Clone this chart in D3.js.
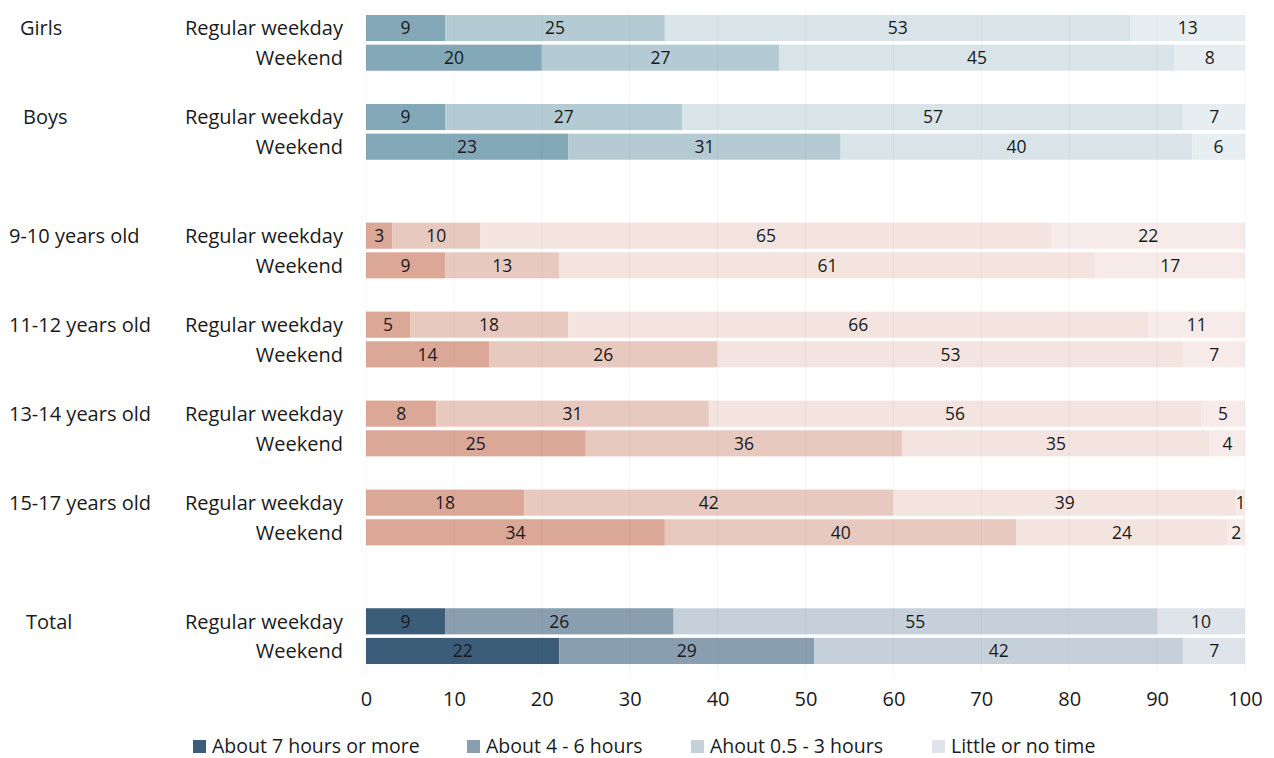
<!DOCTYPE html>
<html>
<head>
<meta charset="utf-8">
<script src="https://cdn.jsdelivr.net/npm/d3@7"></script>
<style>
  html, body { margin: 0; padding: 0; background: #fff; }
  svg { display: block; font-family: "Open Sans", "Noto Sans", sans-serif; }
</style>
</head>
<body>
<svg id="chart" width="1274" height="758"></svg>
<script>
// Groups and the two periods shown for each
const groups = ["Girls", "Boys", "9-10 years old", "11-12 years old", "13-14 years old", "15-17 years old", "Total"];
const periods = ["Regular weekday", "Weekend"];
const seriesNames = ["About 7 hours or more", "About 4 - 6 hours", "Ahout 0.5 - 3 hours", "Little or no time"];
const xTicks = [0, 10, 20, 30, 40, 50, 60, 70, 80, 90, 100];

// Percent of respondents per row (group x period), in group order
const about7h    = [9, 20,  9, 23,  3,  9,  5, 14,  8, 25, 18, 34,  9, 22];
const about4to6  = [25, 27, 27, 31, 10, 13, 18, 26, 31, 36, 42, 40, 26, 29];
const about05to3 = [53, 45, 57, 40, 65, 61, 66, 53, 56, 35, 39, 24, 55, 42];
const littleNone = [13, 8,  7,  6, 22, 17, 11,  7,  5,  4,  1,  2, 10,  7];

const seriesValues = [about7h, about4to6, about05to3, littleNone];

// Palettes: gender rows, age rows, total rows
const palettes = {
  gender: ["#83a8b7", "#b4cbd3", "#d9e4e9", "#e7eef1"],
  age:    ["#dba898", "#e8c9bf", "#f3e4e0", "#f6ebe8"],
  total:  ["#3b5d7a", "#899fb0", "#c5d0da", "#dfe4ea"]
};
const paletteOf = g => g === "Total" ? "total" : (g === "Girls" || g === "Boys") ? "gender" : "age";

// Empty slots inserted before each group to space the sections
const gapBefore = [0, 1, 2, 1, 1, 1, 2];

const rows = [];
const slots = [];
groups.forEach((g, gi) => {
  for (let k = 0; k < gapBefore[gi]; k++) slots.push("gap-" + gi + "-" + k);
  periods.forEach((p, pi) => {
    const idx = gi * 2 + pi;
    const key = g + "|" + p;
    slots.push(key);
    let acc = 0;
    const segs = seriesValues.map((vals, si) => {
      const s = { series: si, x0: acc, x1: acc + vals[idx], value: vals[idx] };
      acc += vals[idx];
      return s;
    });
    rows.push({ key, group: g, period: p, segs });
  });
});

const svg = d3.select("#chart");
const ink = "#1a1a1a";

const x = d3.scaleLinear().domain([0, 100]).range([366, 1245]);
const y = d3.scaleBand().domain(slots).range([13.2, 665.8]).paddingInner(0.12).paddingOuter(0.06);

// Stacked bars
const rowG = svg.append("g").selectAll("g").data(rows).join("g")
  .attr("transform", d => `translate(0,${y(d.key)})`);

rowG.selectAll("rect").data(d => d.segs.map(s => ({ ...s, pal: paletteOf(d.group) }))).join("rect")
  .attr("x", s => x(s.x0))
  .attr("width", s => x(s.x1) - x(s.x0))
  .attr("height", y.bandwidth())
  .attr("fill", s => palettes[s.pal][s.series]);

// Faint vertical gridlines over the plot
svg.append("g").selectAll("line").data(xTicks).join("line")
  .attr("x1", d => x(d)).attr("x2", d => x(d))
  .attr("y1", 10).attr("y2", 675)
  .attr("stroke", "#000").attr("stroke-opacity", 0.04).attr("stroke-width", 1);

// Segment value labels
rowG.selectAll("text").data(d => d.segs).join("text")
  .attr("x", s => (x(s.x0) + x(s.x1)) / 2)
  .attr("y", y.bandwidth() / 2)
  .attr("dy", "0.36em")
  .attr("text-anchor", "middle")
  .attr("font-size", 17.5)
  .attr("fill", ink)
  .text(s => s.value);

// Period labels
svg.append("g").selectAll("text").data(rows).join("text")
  .attr("x", 343)
  .attr("y", d => y(d.key) + y.bandwidth() / 2)
  .attr("dy", "0.36em")
  .attr("text-anchor", "end")
  .attr("font-size", 20)
  .attr("fill", ink)
  .text(d => d.period);

// Group labels
const groupX = { "Girls": 20, "Boys": 23, "Total": 26 };
svg.append("g").selectAll("text").data(groups).join("text")
  .attr("x", g => groupX[g] !== undefined ? groupX[g] : 9)
  .attr("y", g => y(g + "|" + periods[0]) + y.bandwidth() / 2)
  .attr("dy", "0.36em")
  .attr("font-size", 20)
  .attr("fill", ink)
  .text(g => g);

// X axis
const axis = svg.append("g").attr("transform", "translate(0,706)")
  .call(d3.axisBottom(x).tickValues(xTicks).tickSize(0).tickPadding(0));
axis.select(".domain").remove();
axis.selectAll("text")
  .attr("font-size", 20)
  .attr("font-family", "\"Open Sans\", \"Noto Sans\", sans-serif")
  .attr("fill", ink)
  .attr("y", 0)
  .attr("dy", 0);

// Legend
const legendX = [193, 467, 691, 932];
const leg = svg.append("g").selectAll("g").data(seriesNames).join("g")
  .attr("transform", (d, i) => `translate(${legendX[i]},740)`);
leg.append("rect").attr("width", 13).attr("height", 13)
  .attr("fill", (d, i) => palettes.total[i]);
leg.append("text").attr("x", 19).attr("y", 13)
  .attr("font-size", 19.5).attr("fill", ink)
  .text(d => d);
</script>
</body>
</html>
